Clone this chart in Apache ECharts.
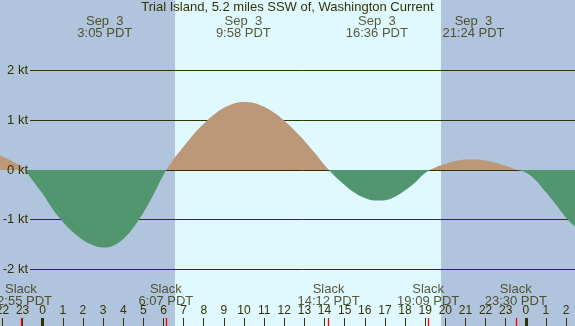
<!DOCTYPE html>
<html style="height: 100%">
    <head>
        <meta charset="utf-8">
    </head>
    <body style="height: 100%; margin: 0">
        <div id="container" style="width: 575px; height: 326px"></div>
        <script type="text/javascript" src="https://cdn.jsdelivr.net/npm/echarts@6/dist/echarts.min.js"></script>
    </body>
</html>
<script type="text/javascript">
    // hours from midnight Sep 3 (PDT); negatives are Sep 2, >24 are Sep 4
    var curveHours = [-2.5, -2, -1.5, -1, -0.5, 0, 0.5, 1, 1.5, 2, 2.5, 3, 3.5, 4, 4.5, 5, 5.5, 6, 6.5, 7, 7.5, 8, 8.5, 9, 9.5,
                      10, 10.5, 11, 11.5, 12, 12.5, 13, 13.5, 14, 14.5, 15, 15.5, 16, 16.5, 17, 17.5, 18, 18.5, 19, 19.5,
                      20, 20.5, 21, 21.5, 22, 22.5, 23, 23.5, 24, 24.5, 25, 25.5, 26, 26.5];
    var curveKt = [0.33, 0.27, 0.17, 0.05, -0.21, -0.48, -0.79, -1.04, -1.25, -1.41, -1.515, -1.56, -1.525, -1.39, -1.16, -0.86, -0.50, -0.10, 0.21, 0.47, 0.72, 0.93, 1.11, 1.25, 1.34,
                   1.37, 1.35, 1.27, 1.15, 0.99, 0.80, 0.59, 0.35, 0.10, -0.12, -0.30, -0.46, -0.565, -0.615, -0.61, -0.54, -0.41, -0.25, -0.06, 0.05,
                   0.125, 0.18, 0.21, 0.213, 0.19, 0.146, 0.084, 0.01, -0.05, -0.21, -0.45, -0.70, -0.96, -1.16];

    var peakHours = [3.083, 9.967, 16.6, 21.4];
    var peakLabels = ['Sep  3\n3:05 PDT', 'Sep  3\n9:58 PDT', 'Sep  3\n16:36 PDT', 'Sep  3\n21:24 PDT'];
    var slackHours = [-1.083, 6.117, 14.2, 19.15, 23.5];
    var slackLabels = ['Slack\n22:55 PDT', 'Slack\n6:07 PDT', 'Slack\n14:12 PDT', 'Slack\n19:09 PDT', 'Slack\n23:30 PDT'];
    var tickHours = [-2, -1, 0, 1, 2, 3, 4, 5, 6, 7, 8, 9, 10, 11, 12, 13, 14, 15, 16, 17, 18, 19, 20, 21, 22, 23, 24, 25, 26];
    var midnightHours = [0, 24];
    var sunrise = 6.57, sunset = 19.79;
    var ktTicks = [-2, -1, 0, 1, 2];

    var ink = '#333300';
    var font = 'Liberation Sans';
    var xMin = -2.121, xMax = 26.443;
    var yMin = -3.139, yMax = 3.42;

    var dom = document.getElementById("container");
    var myChart = echarts.init(dom);

    function hourAxis(values, color, width) {
        return {
            type: 'value', gridIndex: 0, min: xMin, max: xMax, position: 'bottom',
            axisLine: {show: false, onZero: false}, splitLine: {show: false},
            axisTick: {show: true, inside: true, length: 8, customValues: values,
                       lineStyle: {color: color, width: width}},
            axisLabel: {show: false}
        };
    }

    var hx = hourAxis(tickHours, ink, 1);
    hx.axisLabel = {
        show: true, inside: true, margin: 9, customValues: tickHours,
        color: ink, fontFamily: font, fontSize: 12,
        formatter: function (v) { return String(((Math.round(v) % 24) + 24) % 24); }
    };

    var option = {
        backgroundColor: '#b0c4de',
        animation: false,
        title: {
            text: 'Trial Island, 5.2 miles SSW of, Washington Current',
            left: 'center', top: 0, padding: [1, 0, 0, 0],
            textStyle: {color: ink, fontFamily: font, fontSize: 13, fontWeight: 'normal'}
        },
        grid: [
            {left: 0, right: 0, top: 0, bottom: 0, outerBoundsMode: 'none'},
            {left: 30, right: 0, top: 70.7, bottom: 56.7, outerBoundsMode: 'none'}
        ],
        xAxis: [
            hx,
            hourAxis(midnightHours, ink, 3),
            hourAxis(slackHours, '#ff0000', 1.3),
            {type: 'value', gridIndex: 1, min: 0, max: 1, show: false}
        ],
        yAxis: [
            {type: 'value', gridIndex: 0, min: yMin, max: yMax, show: false},
            {type: 'value', gridIndex: 1, min: -2, max: 2, interval: 1, z: 0,
             axisLine: {show: false}, axisTick: {show: false}, axisLabel: {show: false},
             splitLine: {show: true, lineStyle: {color: ink, width: 1}}},
            {type: 'value', gridIndex: 1, min: -2, max: 2, interval: 1, z: 10, position: 'left',
             axisLine: {show: false}, axisTick: {show: false}, splitLine: {show: false},
             axisLabel: {margin: 2, color: ink, fontFamily: font, fontSize: 13,
                         formatter: function (v) { return ktTicks.indexOf(v) >= 0 ? v + ' kt' : ''; }}}
        ],
        visualMap: {
            type: 'piecewise', show: false, seriesIndex: 1, dimension: 1,
            pieces: [{min: -10, max: 0, color: '#529670'}, {min: 0, max: 10, color: '#bb9878'}]
        },
        series: [
            {
                type: 'custom', xAxisIndex: 0, yAxisIndex: 0, z: -1, silent: true,
                data: [[sunrise, sunset]],
                renderItem: function (params, api) {
                    var a = api.coord([api.value(0), 0]);
                    var b = api.coord([api.value(1), 0]);
                    return {type: 'rect', shape: {x: a[0], y: params.coordSys.y, width: b[0] - a[0], height: params.coordSys.height},
                            style: {fill: '#e0f8ff'}};
                }
            },
            {
                type: 'line', xAxisIndex: 0, yAxisIndex: 0, z: 2, smooth: 0.4, symbol: 'none',
                data: curveHours.map(function (t, i) { return [t, curveKt[i]]; }),
                lineStyle: {width: 0},
                areaStyle: {opacity: 1, origin: 'auto'}
            },
            {
                type: 'scatter', xAxisIndex: 0, yAxisIndex: 0, z: 5, symbolSize: 0, silent: true,
                data: peakHours.map(function (t, i) { return {value: [t, yMax], name: peakLabels[i]}; }),
                label: {show: true, position: 'bottom', distance: 15, formatter: '{b}', lineHeight: 12,
                        color: ink, fontFamily: font, fontSize: 13, align: 'center'}
            },
            {
                type: 'scatter', xAxisIndex: 0, yAxisIndex: 0, z: 5, symbolSize: 0, silent: true,
                data: slackHours.map(function (t, i) { return {value: [t, yMin], name: slackLabels[i]}; }),
                label: {show: true, position: 'top', distance: 19, formatter: '{b}', lineHeight: 12,
                        color: ink, fontFamily: font, fontSize: 13, align: 'center'}
            }
        ]
    };

    myChart.setOption(option);
</script>
